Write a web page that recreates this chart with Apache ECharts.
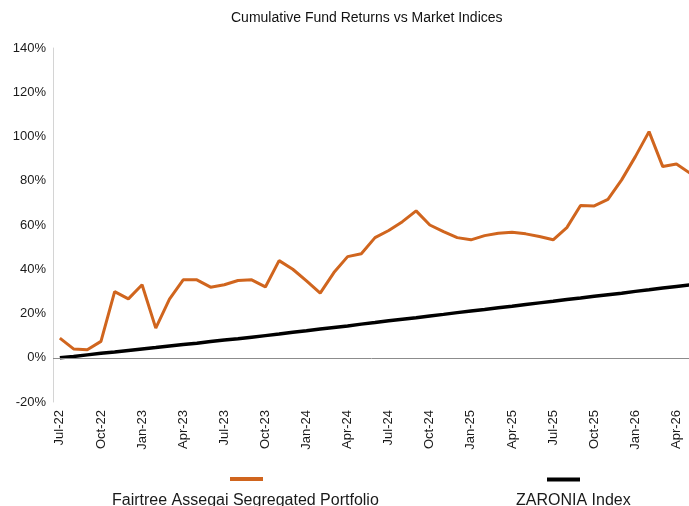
<!doctype html>
<html>

<head>
    <meta charset="utf-8">
    <title>Cumulative Fund Returns</title>
    <script src="https://cdn.jsdelivr.net/npm/echarts@6/dist/echarts.min.js"></script>
    <style>
        html, body {
            margin: 0;
            padding: 0;
            background: #fff;
        }

        #container {
            width: 689px;
            height: 506px;
        }
    </style>
</head>

<body>

    <div id="container"></div>

    <script type="text/javascript">
        // 月份 Jul-22 .. May-26
        var months = ['Jul-22', 'Aug-22', 'Sep-22', 'Oct-22', 'Nov-22', 'Dec-22',
            'Jan-23', 'Feb-23', 'Mar-23', 'Apr-23', 'May-23', 'Jun-23',
            'Jul-23', 'Aug-23', 'Sep-23', 'Oct-23', 'Nov-23', 'Dec-23',
            'Jan-24', 'Feb-24', 'Mar-24', 'Apr-24', 'May-24', 'Jun-24',
            'Jul-24', 'Aug-24', 'Sep-24', 'Oct-24', 'Nov-24', 'Dec-24',
            'Jan-25', 'Feb-25', 'Mar-25', 'Apr-25', 'May-25', 'Jun-25',
            'Jul-25', 'Aug-25', 'Sep-25', 'Oct-25', 'Nov-25', 'Dec-25',
            'Jan-26', 'Feb-26', 'Mar-26', 'Apr-26', 'May-26'
        ];

        var fundName = 'Fairtree Assegai Segregated Portfolio';
        var indexName = 'ZARONIA Index';

        // 累计收益 (%)
        var fundReturns = [8.9, 4.0, 3.6, 7.4, 29.9, 26.6,
            33.0, 13.4, 26.5, 35.2, 35.2, 31.9,
            33.0, 34.9, 35.2, 32.0, 43.9, 40.0,
            34.7, 29.2, 38.5, 45.7, 47.0, 54.3,
            57.5, 61.5, 66.4, 60.0, 57.0, 54.3,
            53.3, 55.2, 56.3, 56.7, 56.0, 54.8,
            53.3, 58.8, 68.8, 68.6, 71.6, 80.4,
            90.9, 102.2, 86.4, 87.6, 83.4
        ];

        var indexReturns = [0.0, 0.6, 1.3, 2.0, 2.6, 3.3,
            4.0, 4.6, 5.3, 6.0, 6.6, 7.3,
            8.0, 8.6, 9.3, 10.0, 10.7, 11.5,
            12.2, 13.0, 13.7, 14.4, 15.2, 15.9,
            16.7, 17.4, 18.1, 18.9, 19.6, 20.4,
            21.1, 21.8, 22.6, 23.3, 24.1, 24.8,
            25.5, 26.3, 27.0, 27.8, 28.5, 29.2,
            30.0, 30.7, 31.5, 32.2, 32.9
        ];

        var font = '"Liberation Sans", Arial, sans-serif';
        var orange = '#D0651E';

        var option = {
            animation: false,
            title: {
                text: 'Cumulative Fund Returns vs Market Indices',
                left: 231,
                top: 11,
                padding: 0,
                textStyle: {
                    fontFamily: font,
                    fontSize: 14,
                    fontWeight: 'normal',
                    color: '#111'
                }
            },
            // 图例: 图标在上, 文字在下
            legend: [{
                data: [fundName],
                left: 230,
                top: 477,
                padding: 0,
                icon: 'rect',
                itemWidth: 33,
                itemHeight: 4,
                selectedMode: false,
                formatter: function() {
                    return '';
                }
            }, {
                data: [indexName],
                left: 547,
                top: 477.5,
                padding: 0,
                icon: 'rect',
                itemWidth: 33,
                itemHeight: 4,
                selectedMode: false,
                formatter: function() {
                    return '';
                }
            }, {
                data: [fundName],
                left: 106,
                top: 493,
                padding: 0,
                itemWidth: 0,
                itemHeight: 0,
                selectedMode: false,
                textStyle: {
                    fontFamily: font,
                    fontSize: 16,
                    color: '#1a1a1a'
                }
            }, {
                data: [indexName],
                left: 510,
                top: 493,
                padding: 0,
                itemWidth: 0,
                itemHeight: 0,
                selectedMode: false,
                textStyle: {
                    fontFamily: font,
                    fontSize: 16,
                    color: '#1a1a1a'
                }
            }],
            // 右侧超出画布, 与原图一样被截断
            grid: {
                left: 53,
                width: 644,
                top: 48,
                bottom: 104,
                containLabel: false,
                outerBoundsMode: 'none'
            },
            xAxis: {
                type: 'category',
                data: months,
                boundaryGap: true,
                axisLine: {
                    show: false
                },
                axisTick: {
                    show: false
                },
                axisLabel: {
                    interval: 2,
                    rotate: 90,
                    margin: 8,
                    fontFamily: font,
                    fontSize: 13,
                    color: '#1a1a1a'
                }
            },
            yAxis: {
                type: 'value',
                min: -20,
                max: 140,
                interval: 20,
                axisLine: {
                    show: true,
                    lineStyle: {
                        color: '#d4d4d4',
                        width: 1
                    }
                },
                axisTick: {
                    show: false
                },
                splitLine: {
                    show: false
                },
                axisLabel: {
                    formatter: '{value}%',
                    margin: 7,
                    fontFamily: font,
                    fontSize: 13,
                    color: '#1a1a1a'
                }
            },
            series: [{
                name: fundName,
                type: 'line',
                data: fundReturns,
                symbol: 'none',
                lineStyle: {
                    color: orange,
                    width: 3
                },
                itemStyle: {
                    color: orange
                },
                markLine: {
                    silent: true,
                    symbol: 'none',
                    label: {
                        show: false
                    },
                    lineStyle: {
                        color: '#8c8c8c',
                        width: 1,
                        type: 'solid'
                    },
                    data: [{
                        yAxis: 0
                    }]
                }
            }, {
                name: indexName,
                type: 'line',
                data: indexReturns,
                symbol: 'none',
                z: 3,
                lineStyle: {
                    color: '#000',
                    width: 3.5
                },
                itemStyle: {
                    color: '#000'
                }
            }]
        };

        var myChart = echarts.init(document.getElementById('container'));
        myChart.setOption(option);
    </script>
</body>

</html>
